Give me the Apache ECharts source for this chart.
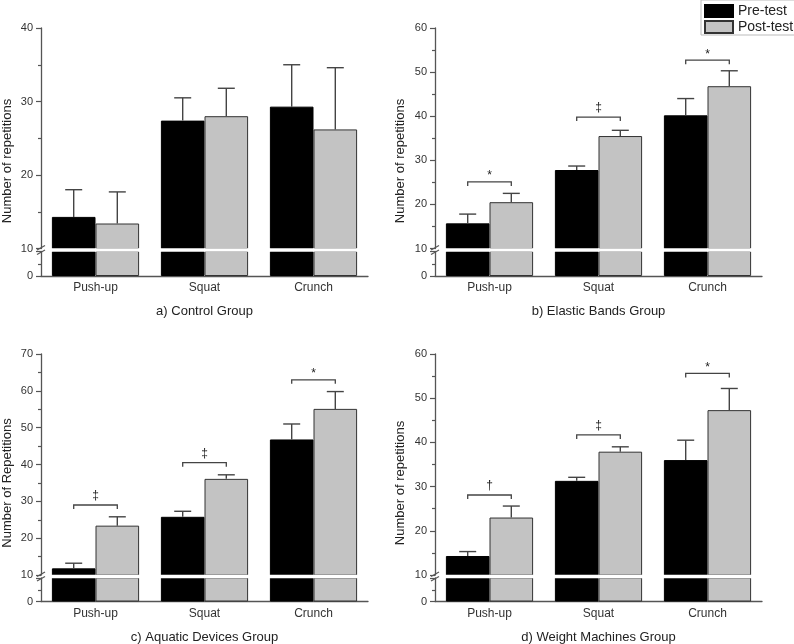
<!DOCTYPE html>
<html><head><meta charset="utf-8">
<script src="https://cdn.jsdelivr.net/npm/echarts@6/dist/echarts.min.js"></script>
<style>html,body{margin:0;padding:0;background:#fff}#c{width:794px;height:644px}</style>
</head><body><div id="c"></div>
<script>
// ---------- data ----------
const categories = ['Push-up', 'Squat', 'Crunch'];
const seriesNames = ['Pre-test', 'Post-test'];
const panelTitles = ['a) Control Group', 'b) Elastic Bands Group', 'c) Aquatic Devices Group', 'd) Weight Machines Group'];
const yAxisNames = ['Number of repetitions', 'Number of repetitions', 'Number of Repetitions', 'Number of repetitions'];
const yAxisMax = [40, 60, 70, 60];

const controlPre = [14.3, 27.4, 29.3];
const controlPreSD = [3.7, 3.1, 5.7];
const controlPost = [13.4, 28.0, 26.2];
const controlPostSD = [4.3, 3.8, 8.4];

const elasticPre = [15.7, 27.8, 40.2];
const elasticPreSD = [2.1, 0.9, 3.8];
const elasticPost = [20.5, 35.5, 46.8];
const elasticPostSD = [2.0, 1.3, 3.5];
const elasticBracketY = [25.1, 39.8, 52.7];
const elasticMarks = ['*', '‡', '*'];

const aquaticPre = [11.8, 25.8, 46.8];
const aquaticPreSD = [1.4, 1.5, 4.2];
const aquaticPost = [23.4, 36.1, 55.1];
const aquaticPostSD = [2.4, 1.1, 4.7];
const aquaticBracketY = [29.0, 40.5, 63.0];
const aquaticMarks = ['‡', '‡', '*'];

const weightPre = [14.3, 31.3, 36.0];
const weightPreSD = [1.0, 0.8, 4.5];
const weightPost = [23.0, 37.9, 47.3];
const weightPostSD = [2.6, 1.1, 4.9];
const weightBracketY = [28.1, 41.7, 55.6];
const weightMarks = ['†', '‡', '*'];

// ---------- layout ----------
const FONT = '"Liberation Sans", Arial, sans-serif';
const W = 327;
const layout = [
  { left: 41,  top: 28,  midB: 248.5, lowT: 251.5, bot: 276,   nameX: 7.5,   nameY: 161 },
  { left: 435, top: 28,  midB: 248.5, lowT: 251.5, bot: 276,   nameX: 400.5, nameY: 161 },
  { left: 41,  top: 354, midB: 575,   lowT: 578,   bot: 601.5, nameX: 7.5,   nameY: 483 },
  { left: 435, top: 354, midB: 575,   lowT: 578,   bot: 601.5, nameX: 400.5, nameY: 483 }
];
const panels = [
  { pre: controlPre, preSD: controlPreSD, post: controlPost, postSD: controlPostSD, brY: [], marks: [] },
  { pre: elasticPre, preSD: elasticPreSD, post: elasticPost, postSD: elasticPostSD, brY: elasticBracketY, marks: elasticMarks },
  { pre: aquaticPre, preSD: aquaticPreSD, post: aquaticPost, postSD: aquaticPostSD, brY: aquaticBracketY, marks: aquaticMarks },
  { pre: weightPre, preSD: weightPreSD, post: weightPost, postSD: weightPostSD, brY: weightBracketY, marks: weightMarks }
];

const AX = '#555';
const preStyle = { color: '#000', borderColor: '#000', borderWidth: 1 };
const postStyle = { color: '#c3c3c3', borderColor: '#333', borderWidth: 1 };

const grid = [], xAxis = [], yAxis = [], series = [], graphic = [];

panels.forEach((p, i) => {
  const g = layout[i];
  grid.push({ left: g.left, top: g.top, width: W, height: g.midB - g.top, containLabel: false, outerBoundsMode: 'none' });
  grid.push({ left: g.left, top: g.lowT, width: W, height: g.bot - g.lowT, containLabel: false, outerBoundsMode: 'none' });
  const gu = 2 * i, gl = 2 * i + 1;
  const xu = xAxis.length;
  xAxis.push({ gridIndex: gu, type: 'category', data: categories, show: false });
  const xl = xAxis.length;
  xAxis.push({
    gridIndex: gl, type: 'category', data: categories, position: 'bottom',
    axisLine: { lineStyle: { color: AX, width: 1.3 } },
    axisTick: { alignWithLabel: true, length: 4, lineStyle: { color: AX, width: 1.2 } },
    axisLabel: { margin: 6, fontSize: 12, color: '#333', fontFamily: FONT },
    name: panelTitles[i], nameLocation: 'middle', nameGap: 29,
    nameTextStyle: { fontSize: 13, color: '#222', fontFamily: FONT }
  });
  xAxis.push({
    gridIndex: gl, type: 'category', data: categories, position: 'bottom',
    axisLine: { show: false }, axisLabel: { show: false },
    axisTick: { length: 2, lineStyle: { color: AX, width: 1.2 } }
  });
  const yu = yAxis.length;
  yAxis.push({
    gridIndex: gu, type: 'value', min: 10, max: yAxisMax[i], interval: 10,
    axisLine: { show: true, lineStyle: { color: AX, width: 1.3 } },
    axisTick: { show: true, length: 5, lineStyle: { color: AX, width: 1.2 } },
    minorTick: { show: true, splitNumber: 2, length: 3, lineStyle: { color: AX, width: 1.2 } },
    splitLine: { show: false },
    axisLabel: { margin: 8, fontSize: 11, color: '#333', fontFamily: FONT }
  });
  const yl = yAxis.length;
  yAxis.push({
    gridIndex: gl, type: 'value', min: 0, max: 10, interval: 10,
    axisLine: { show: true, lineStyle: { color: AX, width: 1.3 } },
    axisTick: { show: true, length: 5, lineStyle: { color: AX, width: 1.2 } },
    minorTick: { show: true, splitNumber: 2, length: 3, lineStyle: { color: AX, width: 1.2 } },
    splitLine: { show: false },
    axisLabel: { margin: 8, fontSize: 11, color: '#333', fontFamily: FONT, showMaxLabel: false }
  });

  const barCommon = { type: 'bar', barGap: '0%', barCategoryGap: '20%', clip: true };
  series.push(Object.assign({ name: 'Pre-test', xAxisIndex: xu, yAxisIndex: yu, data: p.pre, itemStyle: preStyle }, barCommon));
  series.push(Object.assign({ name: 'Post-test', xAxisIndex: xu, yAxisIndex: yu, data: p.post, itemStyle: postStyle }, barCommon));
  series.push(Object.assign({ name: 'Pre-test', xAxisIndex: xl, yAxisIndex: yl, data: p.pre, itemStyle: preStyle }, barCommon));
  series.push(Object.assign({ name: 'Post-test', xAxisIndex: xl, yAxisIndex: yl, data: p.post, itemStyle: postStyle }, barCommon));

  const errData = [];
  categories.forEach((c, k) => {
    errData.push([k, p.pre[k], p.pre[k] + p.preSD[k], 0]);
    errData.push([k, p.post[k], p.post[k] + p.postSD[k], 1]);
  });
  series.push({
    type: 'custom', name: 'err', xAxisIndex: xu, yAxisIndex: yu, data: errData,
    encode: { x: 0, y: [1, 2] }, z: 5,
    renderItem: (params, api) => {
      const cat = api.value(0), which = api.value(3);
      const band = api.size([1, 0])[0];
      const pm = api.coord([cat, api.value(1)]);
      const pt = api.coord([cat, api.value(2)]);
      const x = pm[0] + (which === 0 ? -1 : 1) * band * 0.2;
      const st = { stroke: '#444', lineWidth: 1.4 };
      return { type: 'group', children: [
        { type: 'line', shape: { x1: x, y1: pm[1], x2: x, y2: pt[1] }, style: st },
        { type: 'line', shape: { x1: x - 8.5, y1: pt[1], x2: x + 8.5, y2: pt[1] }, style: st }
      ]};
    }
  });

  if (p.brY.length) {
    const marks = p.marks;
    series.push({
      type: 'custom', name: 'sig', xAxisIndex: xu, yAxisIndex: yu,
      data: p.brY.map((v, k) => [k, v]), encode: { x: 0, y: 1 }, z: 5,
      renderItem: (params, api) => {
        const cat = api.value(0);
        const band = api.size([1, 0])[0];
        const c = api.coord([cat, api.value(1)]);
        const x1 = c[0] - band * 0.2, x2 = c[0] + band * 0.2, y = c[1];
        const m = marks[params.dataIndex];
        return { type: 'group', children: [
          { type: 'polyline', shape: { points: [[x1, y + 4], [x1, y], [x2, y], [x2, y + 4]] },
            style: { stroke: '#444', lineWidth: 1.3, fill: null } },
          { type: 'text', style: { text: m, x: c[0], y: m === '*' ? y : y - 3,
            align: 'center', verticalAlign: 'bottom', fontSize: 12, fontFamily: FONT, fill: '#222' } }
        ]};
      }
    });
  }

  // white break strip across the bars
  graphic.push({ type: 'rect', z: 100, shape: { x: g.left + 1.5, y: g.midB - 0.3, width: W - 1.5, height: g.lowT - g.midB + 0.6 },
    style: { fill: '#fff' } });
  graphic.push({ type: 'text', x: g.nameX, y: g.nameY, rotation: Math.PI / 2,
    style: { text: yAxisNames[i], align: 'center', verticalAlign: 'middle', fontSize: 13, fontFamily: FONT, fill: '#222' } });
  graphic.push({ type: 'line', z: 101, shape: { x1: g.left - 4, y1: g.midB + 1.5, x2: g.left + 4, y2: g.midB - 3 },
    style: { stroke: AX, lineWidth: 1.2 } });
  graphic.push({ type: 'line', z: 101, shape: { x1: g.left - 4, y1: g.lowT + 3, x2: g.left + 4, y2: g.lowT - 1.5 },
    style: { stroke: AX, lineWidth: 1.2 } });
});

const chart = echarts.init(document.getElementById('c'), null, { renderer: 'canvas' });
chart.setOption({
  animation: false,
  backgroundColor: '#fff',
  legend: {
    data: seriesNames, orient: 'vertical', left: 701, top: 0, icon: 'rect',
    itemWidth: 28, itemHeight: 12, itemGap: 2, padding: [4, 2, 1, 3],
    borderColor: '#bbb', borderWidth: 1, backgroundColor: '#fff',
    textStyle: { fontSize: 14, lineHeight: 14, color: '#222', fontFamily: FONT }
  },
  grid, xAxis, yAxis, series, graphic
});
</script></body></html>
